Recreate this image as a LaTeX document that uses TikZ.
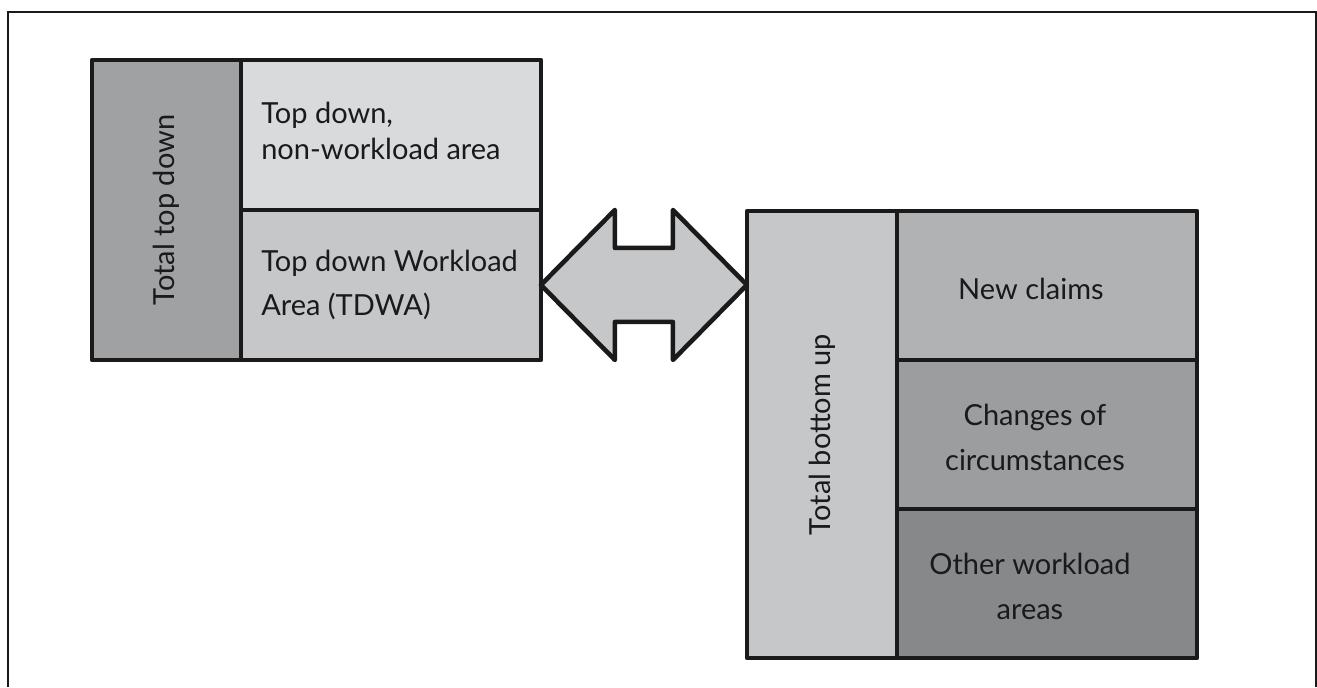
\documentclass[tikz,border=0pt]{standalone}
\usepackage{fontspec}
\setmainfont{Lato}
\usetikzlibrary{positioning}

\definecolor{edge}{HTML}{1A1A1A}
\definecolor{ink}{HTML}{1A1A1A}
\definecolor{tdgrey}{HTML}{A0A1A3}
\definecolor{lightgrey}{HTML}{D9DADC}
\definecolor{midgrey}{HTML}{C6C7C9}
\definecolor{ncgrey}{HTML}{B1B2B4}
\definecolor{ccgrey}{HTML}{9C9D9F}
\definecolor{owgrey}{HTML}{87888A}

\tikzset{
  box/.style={draw=edge, line width=2.6pt, line join=round, inner sep=0pt, outer sep=0pt, anchor=north west},
  lbl/.style={font=\fontsize{16.5}{20.5}\selectfont, text=ink, inner sep=0pt},
  frame/.style={draw=edge, line width=1.6pt}
}

\begin{document}
\begin{tikzpicture}[x=0.02cm, y=-0.02cm]
      \useasboundingbox (0,0) rectangle (1317,687);
      \draw[frame] (8,687) |- (1316,12) -- (1316,687);

      % top down side
      \node[box, fill=tdgrey, minimum width=2.98cm, minimum height=6cm] (td) at (92,60) {};
      \node[box, fill=lightgrey, minimum width=6cm, minimum height=3cm] (tdnw) at (td.north east) {};
      \node[box, fill=midgrey, minimum width=6cm, minimum height=3cm] (tdwa) at (tdnw.south west) {};
      \node[lbl, rotate=90] (tdtxt) at (td.center) {Total top down};
      \node[lbl, align=left, anchor=west] (tdnwtxt) at ([xshift=0.4cm, yshift=0.08cm]tdnw.west) {Top down,\\non-workload area};
      \node[lbl, align=left, anchor=west] (tdwatxt) at ([xshift=0.4cm]tdwa.west) {Top down Workload\\[5pt]Area (TDWA)};

      % bottom up side
      \node[box, fill=midgrey, minimum width=3cm, minimum height=8.94cm] (bu) at (747,211) {};
      \node[box, fill=ncgrey, minimum width=6cm, minimum height=2.98cm] (nc) at (bu.north east) {};
      \node[box, fill=ccgrey, minimum width=6cm, minimum height=2.98cm] (cc) at (nc.south west) {};
      \node[box, fill=owgrey, minimum width=6cm, minimum height=2.98cm] (ow) at (cc.south west) {};
      \node[lbl, rotate=90] (butxt) at (bu.center) {Total bottom up};
      \node[lbl] (nctxt) at ([xshift=-0.32cm, yshift=-0.06cm]nc.center) {New claims};
      \node[lbl, align=center] (cctxt) at ([xshift=-0.24cm, yshift=-0.06cm]cc.center) {Changes of\\[5pt]circumstances};
      \node[lbl, align=center] (owtxt) at ([xshift=-0.34cm, yshift=-0.06cm]ow.center) {Other workload\\[5pt]areas};

      % double arrow between the two
      \draw[box, fill=midgrey] (tdwa.east) -- ++(74,-75) -- ++(0,38) -- ++(58,0) -- ++(0,-38)
        -- ++(74,75) -- ++(-74,75) -- ++(0,-38) -- ++(-58,0) -- ++(0,38) -- cycle;
    \end{tikzpicture}
\end{document}
